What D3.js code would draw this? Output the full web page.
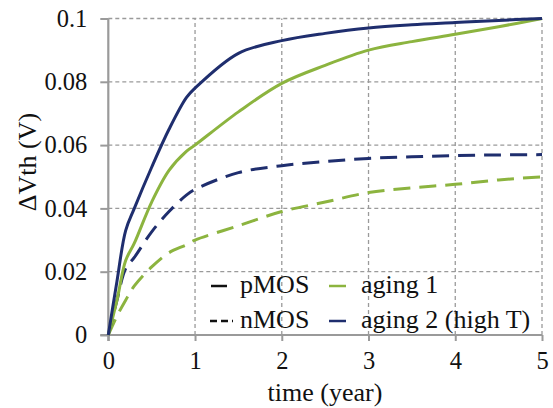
<!DOCTYPE html>
<html><head><meta charset="utf-8">
<script src="https://cdn.jsdelivr.net/npm/d3@7"></script>
</head><body style="margin:0">
<svg width="553" height="408" id="s" style="display:block;font-family:'Liberation Serif'"></svg>
<script>
const times = [0, 0.1, 0.2, 0.3, 0.5, 0.7, 0.9, 1, 1.5, 2, 2.5, 3, 3.5, 4, 4.5, 5];
const aging2_pMOS = [0, 0.017, 0.033, 0.040, 0.053, 0.065, 0.075, 0.078, 0.089, 0.093, 0.0953, 0.097, 0.098, 0.0987, 0.0994, 0.1];
const aging1_pMOS = [0, 0.011, 0.0235, 0.029, 0.042, 0.052, 0.058, 0.060, 0.0705, 0.0795, 0.0852, 0.090, 0.0927, 0.095, 0.0974, 0.1];
const aging2_nMOS = [0, 0.011, 0.021, 0.0245, 0.0326, 0.039, 0.0442, 0.046, 0.0513, 0.0535, 0.0548, 0.0558, 0.0563, 0.0567, 0.0569, 0.057];
const aging1_nMOS = [0, 0.006, 0.011, 0.0155, 0.0215, 0.026, 0.0285, 0.030, 0.0345, 0.039, 0.042, 0.045, 0.0465, 0.0476, 0.049, 0.050];
const xTicks = [0, 1, 2, 3, 4, 5];
const yTicks = [0, 0.02, 0.04, 0.06, 0.08, 0.1];
const yTickLabels = ["0", "0.02", "0.04", "0.06", "0.08", "0.1"];
const seriesNames = ["aging 1", "aging 2 (high T)"];
const typeNames = ["pMOS", "nMOS"];

const FONT = "Liberation Serif";
const navy = "#1f2e6e", green = "#8cb43f", grid = "#9a9a9a";
const svg = d3.select("#s");
const x = d3.scaleLinear().domain([0, 5]).range([108.3, 542]);
const y = d3.scaleLinear().domain([0, 0.1]).range([335, 18.5]);

// gridlines
svg.append("g").selectAll("line").data(yTicks.filter(d => d > 0)).join("line")
  .attr("x1", x(0)).attr("x2", x(5)).attr("y1", d => y(d)).attr("y2", d => y(d))
  .attr("stroke", grid).attr("stroke-width", 1.3).attr("stroke-dasharray", "4,3");
svg.append("g").selectAll("line").data(xTicks.filter(d => d > 0)).join("line")
  .attr("x1", d => x(d)).attr("x2", d => x(d)).attr("y1", y(0)).attr("y2", y(0.1))
  .attr("stroke", grid).attr("stroke-width", 1.3).attr("stroke-dasharray", "4,3");

// axes
const xAxis = svg.append("g").attr("transform", `translate(0,${y(0)})`)
  .call(d3.axisBottom(x).tickValues(xTicks).tickSize(6).tickPadding(11).tickFormat(d3.format("d")));
const yAxis = svg.append("g").attr("transform", `translate(${x(0)},0)`)
  .call(d3.axisLeft(y).tickValues(yTicks).tickSize(8).tickPadding(13).tickFormat((d, i) => yTickLabels[i]));
[xAxis, yAxis].forEach(a => {
  a.attr("font-family", null).attr("font-size", null);
  a.select(".domain").attr("stroke", grid).attr("stroke-width", 2.2);
  a.selectAll(".tick line").attr("stroke", grid).attr("stroke-width", 2);
  a.selectAll(".tick text").style("font-family", FONT).style("font-size", "24.5px").attr("fill", "#111");
});
xAxis.select(".domain").attr("d", `M${x(0) - 8},0H${x(5)}`);
yAxis.select(".domain").attr("d", `M0,${y(0.1)}V${y(0) + 6}`);

// lines
const line = d3.line().x((d, i) => x(times[i])).y(d => y(d)).curve(d3.curveCatmullRom.alpha(0.5));
const series = [
  { v: aging1_nMOS, c: green, dash: "17,9" },
  { v: aging2_nMOS, c: navy, dash: "17,9" },
  { v: aging1_pMOS, c: green, dash: null },
  { v: aging2_pMOS, c: navy, dash: null }
];
svg.append("g").selectAll("path").data(series).join("path")
  .attr("d", d => line(d.v)).attr("fill", "none").attr("stroke", d => d.c)
  .attr("stroke-width", 3).attr("stroke-dasharray", d => d.dash);

// axis titles
svg.append("text").attr("x", 325).attr("y", 401).attr("text-anchor", "middle")
  .style("font-family", FONT).style("font-size", "26px").attr("fill", "#111").text("time (year)");
svg.append("text").attr("transform", "translate(36,162) rotate(-90)").attr("text-anchor", "middle")
  .style("font-family", FONT).style("font-size", "26px").attr("fill", "#111").text("ΔVth (V)");

// legend
const lg = svg.append("g");
const rows = [293, 328];
lg.append("line").attr("x1", 211).attr("x2", 227).attr("y1", rows[0] - 7).attr("y2", rows[0] - 7).attr("stroke", "#111").attr("stroke-width", 2.5);
lg.append("line").attr("x1", 210).attr("x2", 233).attr("y1", rows[1] - 7).attr("y2", rows[1] - 7).attr("stroke", "#111").attr("stroke-width", 2.5).attr("stroke-dasharray", "7,4");
typeNames.forEach((t, i) => lg.append("text").attr("x", 240).attr("y", rows[i])
  .style("font-family", FONT).style("font-size", "26px").attr("fill", "#111").text(t));
[green, navy].forEach((c, i) => lg.append("line").attr("x1", 329).attr("x2", 346).attr("y1", rows[i] - 7).attr("y2", rows[i] - 7).attr("stroke", c).attr("stroke-width", 2.5));
seriesNames.forEach((t, i) => lg.append("text").attr("x", 361).attr("y", rows[i])
  .style("font-family", FONT).style("font-size", "26px").attr("fill", "#111").text(t));
</script></body></html>
